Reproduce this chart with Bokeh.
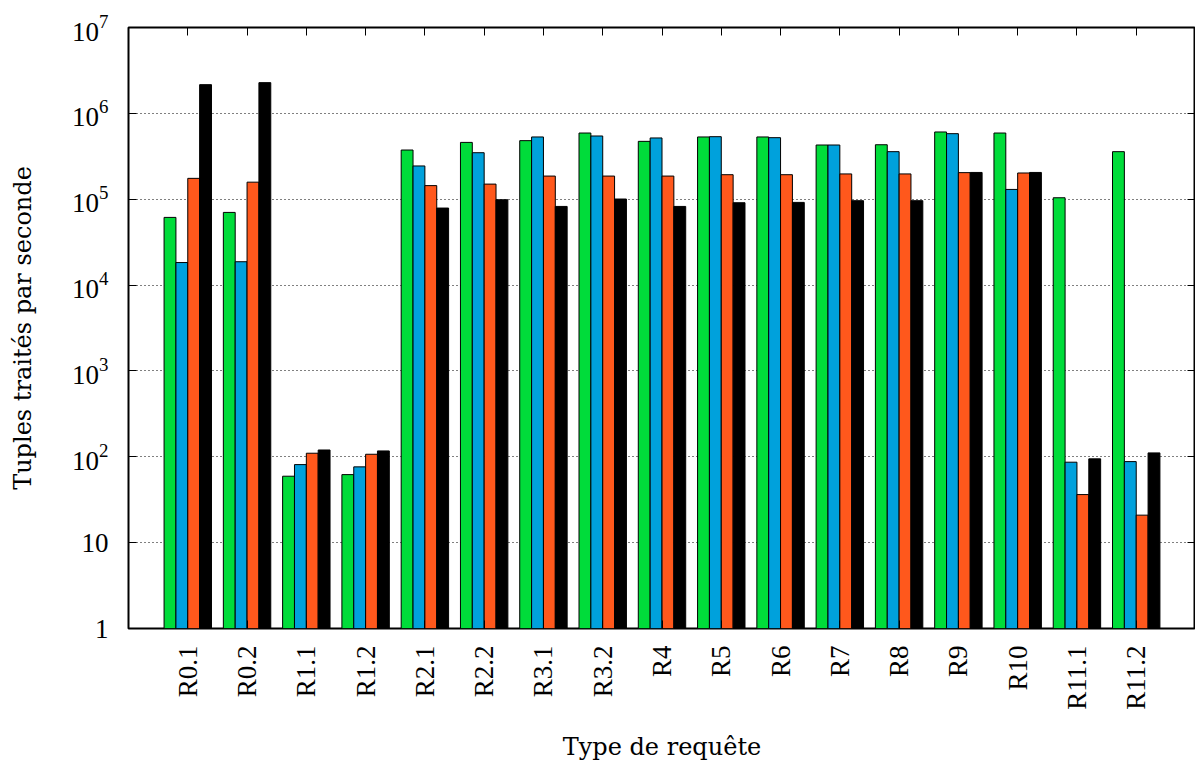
import numpy as np
from bokeh.plotting import figure
from bokeh.models import (ColumnDataSource, Range1d, FixedTicker, LinearAxis,
                          LogAxis, LogTickFormatter)
from bokeh.transform import dodge
from bokeh.embed import file_html
from bokeh.resources import INLINE

# ---- data ----
categories = ["R0.1", "R0.2", "R1.1", "R1.2", "R2.1", "R2.2", "R3.1", "R3.2",
              "R4", "R5", "R6", "R7", "R8", "R9", "R10", "R11.1", "R11.2"]
serie_vert = [61400, 70200, 59.4, 62, 374000, 459000, 481000, 590000, 472000,
              531000, 531000, 428000, 431000, 607000, 590000, 104000, 358000]
serie_bleue = [18300, 18700, 81.1, 76.3, 244000, 348000, 531000, 545000, 517000,
               535000, 521000, 428000, 358000, 580000, 130000, 86.5, 87.9]
serie_orange = [175000, 158000, 110, 107, 144000, 150000, 186000, 186000, 186000,
                193000, 193000, 197000, 197000, 204000, 202000, 36.3, 20.9]
serie_noire = [2160000, 2280000, 120, 117, 78900, 98600, 82400, 100500, 82400,
               91000, 91800, 96100, 96100, 205000, 205000, 94.6, 111]
y_ticks = [1, 10, 100, 1000, 10000, 100000, 1000000, 10000000]
y_plain_labels = {1: "1", 10: "10"}

positions = list(range(1, len(categories) + 1))
source = ColumnDataSource(dict(x=positions, vert=serie_vert, bleue=serie_bleue,
                               orange=serie_orange, noire=serie_noire))

TICK_FONT = "Liberation Serif"
TICK_SIZE = "27px"
TITLE_FONT = "DejaVu Serif"

p = figure(width=1195, height=765, output_backend="svg", toolbar_location=None,
           y_axis_type="log",
           x_range=Range1d(0, len(categories) + 1), y_range=Range1d(1, 1e7),
           min_border_left=128, min_border_right=0, min_border_top=27,
           min_border_bottom=137)

series = [("vert", "#00dc3a", -0.3), ("bleue", "#00a1dc", -0.1),
          ("orange", "#ff581c", 0.1), ("noire", "#000000", 0.3)]
for col, color, off in series:
    p.vbar(x=dodge("x", off, range=p.x_range), top=col, bottom=1, width=0.2,
           source=source, fill_color=color, line_color="black", line_width=1)

p.outline_line_color = "black"
p.outline_line_width = 2
p.background_fill_color = "white"
p.border_fill_color = "white"

p.xgrid.grid_line_color = None
p.ygrid.grid_line_color = "black"
p.ygrid.grid_line_dash = "1 3"
p.ygrid.grid_line_width = 1
p.ygrid.ticker = FixedTicker(ticks=y_ticks)

# x axis (bottom)
xa = p.xaxis[0]
xa.ticker = FixedTicker(ticks=positions)
xa.major_label_overrides = {pos: lab for pos, lab in zip(positions, categories)}
xa.major_label_orientation = np.pi / 2
xa.major_label_text_font = TICK_FONT
xa.major_label_text_font_size = TICK_SIZE
xa.major_label_text_color = "black"
xa.major_label_standoff = 17
xa.major_tick_in = 8
xa.major_tick_out = 0
xa.minor_tick_line_color = None
xa.axis_line_color = None
xa.major_tick_line_color = "black"
xa.axis_label = "Type de requête"
xa.axis_label_text_font = TITLE_FONT
xa.axis_label_text_font_size = "24px"
xa.axis_label_text_font_style = "normal"
xa.axis_label_text_color = "black"
xa.axis_label_standoff = 20

# y axis (left)
ya = p.yaxis[0]
ya.ticker = FixedTicker(ticks=y_ticks)
ya.formatter = LogTickFormatter(min_exponent=1)
ya.major_label_overrides = y_plain_labels
ya.major_label_text_font = TICK_FONT
ya.major_label_text_font_size = TICK_SIZE
ya.major_label_text_color = "black"
ya.major_label_standoff = 20
ya.major_tick_in = 8
ya.major_tick_out = 0
ya.minor_tick_line_color = None
ya.axis_line_color = None
ya.major_tick_line_color = "black"
ya.axis_label = "Tuples traités par seconde"
ya.axis_label_text_font = TITLE_FONT
ya.axis_label_text_font_size = "24px"
ya.axis_label_text_font_style = "normal"
ya.axis_label_text_color = "black"
ya.axis_label_standoff = 32

# mirror axes (top, right) with inward ticks only
top_axis = LinearAxis(ticker=FixedTicker(ticks=positions),
                      major_tick_in=8, major_tick_out=0,
                      minor_tick_line_color=None, axis_line_color=None,
                      major_label_text_font_size="0px", major_label_standoff=0,
                      major_label_text_color=None)
p.add_layout(top_axis, "above")
right_axis = LogAxis(ticker=FixedTicker(ticks=y_ticks),
                     major_tick_in=8, major_tick_out=0,
                     minor_tick_line_color=None, axis_line_color=None,
                     major_label_text_font_size="0px", major_label_standoff=0,
                     major_label_text_color=None)
p.add_layout(right_axis, "right")

open("out.html", "w").write(file_html(p, INLINE))
